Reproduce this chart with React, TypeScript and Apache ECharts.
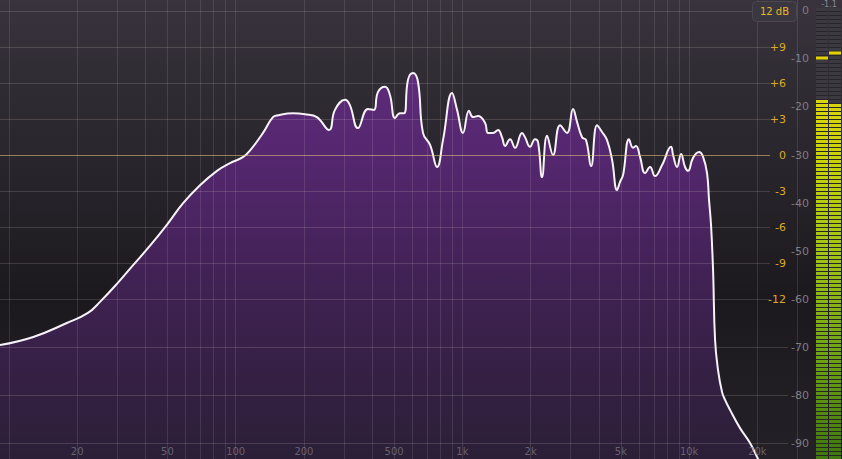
import React, { useEffect, useRef } from 'react';
import * as echarts from 'echarts';

// Spectrum curve (frequency in Hz, level in dB)
const FREQ = [9.13, 12.8, 18.0, 22.3, 25.2, 30.0, 35.2, 41.9, 49.8, 58.5, 69.6, 82.7, 94.4, 108, 116, 132, 146, 154, 179, 202, 228, 258, 274, 304, 319, 346, 383, 407, 424, 456, 479, 504, 530, 553, 575, 605, 637, 670, 720, 773, 821, 900, 947, 1006, 1069, 1114, 1172, 1258, 1297, 1365, 1436, 1495, 1542, 1622, 1706, 1832, 1889, 1987, 2090, 2155, 2244, 2362, 2510, 2695, 2893, 3075, 3203, 3370, 3510, 3693, 3925, 4129, 4344, 4571, 4808, 4957, 5110, 5430, 5655, 5831, 6073, 6390, 6722, 7073, 7595, 8322, 8492, 8844, 9211, 9592, 9888, 10404, 11060, 11520, 11995, 12240, 12490, 12750, 13010, 13410, 13970, 14400, 15150, 16770, 18560, 19930, 20970];
const LEVEL = [-69.6, -67.9, -65.0, -62.9, -60.6, -56.8, -53.0, -48.9, -44.5, -40.1, -36.3, -33.3, -31.7, -30.4, -29.0, -25.4, -22.1, -21.7, -21.3, -21.5, -22.1, -24.8, -20.6, -18.5, -19.6, -24.4, -20.4, -20.6, -16.9, -15.8, -17.5, -22.3, -21.3, -21.3, -14.4, -12.9, -14.8, -25.4, -27.9, -32.5, -26.9, -17.1, -20.6, -25.4, -20.8, -22.1, -21.9, -23.3, -25.4, -25.4, -24.8, -26.3, -28.1, -26.7, -28.5, -25.4, -26.3, -28.3, -26.7, -27.3, -34.6, -26.0, -30.0, -23.8, -25.4, -20.4, -23.1, -26.3, -26.9, -32.3, -23.8, -25.2, -26.9, -31.0, -37.3, -35.6, -34.2, -26.7, -28.5, -28.1, -30.4, -33.8, -32.5, -34.4, -32.1, -28.3, -30.0, -32.5, -29.8, -32.5, -33.3, -30.6, -29.4, -30.4, -33.8, -39.4, -44.6, -54.0, -68.5, -74.8, -79.4, -81.0, -83.1, -86.9, -90.0, -92.9, -94.8];

// Axes
const X_MIN = 9.13;
const X_MAX = 35900;
const SPEC_MIN = -93.33;
const SPEC_MAX = 2.29;
const EQ_MIN = -25.33;
const EQ_MAX = 12.92;
const SPEC_TICKS = [0, -10, -20, -30, -40, -50, -60, -70, -80, -90];
const EQ_TICKS = [9, 6, 3, 0, -3, -6, -9, -12];
const EQ_LINES = [12, 9, 6, 3, 0, -3, -6, -9, -12];
const SPEC_LINES = [-70, -80, -90];
const EQ_LINE_END = 22750;
const SPEC_LINE_END = 27300;
const X_GRID = [10, 20, 30, 40, 50, 60, 70, 80, 90, 100, 200, 300, 400, 500, 600, 700, 800, 900, 1000, 2000, 3000, 4000, 5000, 6000, 7000, 8000, 9000, 10000, 20000, 30000];
const X_LABEL_FREQ = [20, 50, 100, 200, 500, 1000, 2000, 5000, 10000, 20000];
const X_LABEL_TEXT = ['20', '50', '100', '200', '500', '1k', '2k', '5k', '10k', '20k'];
const X_LABEL_DB = -91.7;

// Level meter (L, R): level dB, peak hold dB
const METER_CH = ['L', 'R'];
const METER_LEVEL = [-18.5, -19.2];
const METER_PEAK = [-9.8, -8.75];

const FONT = '"DejaVu Sans", sans-serif';

export default function App() {
  const ref = useRef<HTMLDivElement>(null);
  useEffect(() => {
    document.body.style.margin = '0';
    document.body.style.overflow = 'hidden';
    const chart = echarts.init(ref.current!, null, { renderer: 'svg' });
    const data = FREQ.map((f, i) => [f, LEVEL[i]]);
    const fill = {
      type: 'linear', x: 0, y: 0, x2: 0, y2: 459, global: true,
      colorStops: [
        { offset: 0, color: '#64317f' },
        { offset: 0.16, color: '#5e2b7b' },
        { offset: 0.34, color: '#55276f' },
        { offset: 0.65, color: '#3e2150' },
        { offset: 1, color: '#2b1f37' },
      ],
    };
    const lit = {
      type: 'linear', x: 0, y: 0, x2: 0, y2: 459, global: true,
      colorStops: [
        { offset: 0, color: '#e2da12' },
        { offset: 0.2, color: '#dcd60c' },
        { offset: 0.35, color: '#c8d206' },
        { offset: 0.55, color: '#a2c414' },
        { offset: 0.75, color: '#74a812' },
        { offset: 1, color: '#3e780c' },
      ],
    };
    const vLine = 'rgba(255,255,255,0.11)';
    const hLine = 'rgba(255,240,225,0.15)';
    chart.setOption({
      animation: false,
      grid: [
        { left: 0, top: 0, width: 815, height: 459 },
        { left: 816, top: 0, width: 26, height: 459 },
      ],
      xAxis: [
        { type: 'log', gridIndex: 0, min: X_MIN, max: X_MAX, axisLine: { show: false }, axisTick: { show: false }, axisLabel: { show: false }, splitLine: { show: false } },
        { type: 'category', gridIndex: 1, data: METER_CH, show: false },
      ],
      yAxis: [
        {
          type: 'value', gridIndex: 0, min: SPEC_MIN, max: SPEC_MAX, position: 'right',
          axisLine: { show: false }, axisTick: { show: false }, splitLine: { show: false },
          axisLabel: { inside: true, margin: 6, customValues: SPEC_TICKS, color: '#7d7b83', fontSize: 11, fontFamily: FONT, formatter: (v: number) => `${v}` },
        },
        {
          type: 'value', gridIndex: 0, min: EQ_MIN, max: EQ_MAX, position: 'right',
          axisLine: { show: false }, axisTick: { show: false }, splitLine: { show: false },
          axisLabel: { inside: true, margin: 29, customValues: EQ_TICKS, color: '#dba92a', fontSize: 11, fontFamily: FONT, formatter: (v: number) => (v > 0 ? `+${v}` : `${v}`) },
        },
        { type: 'value', gridIndex: 1, min: SPEC_MIN, max: SPEC_MAX, show: false },
      ],
      series: [
        {
          type: 'line', name: 'fill', xAxisIndex: 0, yAxisIndex: 0, data, smooth: 0.45, showSymbol: false, z: 1,
          lineStyle: { width: 0, opacity: 0 }, areaStyle: { color: fill, opacity: 1, origin: 'start' }, silent: true,
        },
        {
          type: 'line', name: 'grid', xAxisIndex: 0, yAxisIndex: 0, data: [[X_MIN, SPEC_MIN]], showSymbol: false, z: 2,
          lineStyle: { opacity: 0 }, silent: true,
          markLine: {
            silent: true, symbol: ['none', 'none'], label: { show: false },
            data: [
              ...X_GRID.map((f) => ({ xAxis: f, lineStyle: { color: vLine, width: 1, type: 'solid' } })),
              ...SPEC_LINES.map((v) => [
                { coord: [X_MIN, v], lineStyle: { color: hLine, width: 1, type: 'solid' } },
                { coord: [SPEC_LINE_END, v] },
              ]),
            ],
          },
        },
        {
          type: 'line', name: 'eqgrid', xAxisIndex: 0, yAxisIndex: 1, data: [[X_MIN, EQ_MIN]], showSymbol: false, z: 2,
          lineStyle: { opacity: 0 }, silent: true,
          markLine: {
            silent: true, symbol: ['none', 'none'], label: { show: false },
            data: EQ_LINES.map((v) => [
              { coord: [X_MIN, v], lineStyle: { color: v === 0 ? 'rgba(235,200,125,0.55)' : hLine, width: 1, type: 'solid' } },
              { coord: [EQ_LINE_END, v] },
            ]),
          },
        },
        {
          type: 'line', name: 'spectrum', xAxisIndex: 0, yAxisIndex: 0, data, smooth: 0.45, showSymbol: false, z: 3,
          lineStyle: { color: '#f6f2f8', width: 2 }, silent: true,
        },
        {
          type: 'scatter', name: 'xlabels', xAxisIndex: 0, yAxisIndex: 0, z: 4, symbolSize: 0, silent: true,
          data: X_LABEL_FREQ.map((f) => [f, X_LABEL_DB]),
          label: { show: true, position: 'inside', color: '#78757e', fontSize: 10, fontFamily: FONT, formatter: (p: any) => X_LABEL_TEXT[p.dataIndex] },
        },
        {
          type: 'custom', name: 'meter', xAxisIndex: 1, yAxisIndex: 2, z: 5, silent: true,
          data: METER_CH.map((_, i) => [i, METER_LEVEL[i], METER_PEAK[i]]),
          renderItem: (params: any, api: any) => {
            const ch = api.value(0);
            const lvl = api.value(1);
            const pk = api.value(2);
            const bw = api.size([1, 0])[0];
            const p = api.coord([ch, lvl]);
            const pp = api.coord([ch, pk]);
            const x0 = p[0] - bw / 2;
            const w = bw - 1;
            const children: any[] = [
              { type: 'rect', shape: { x: x0, y: 8, width: w, height: 451 }, style: { fill: '#27252b' } },
            ];
            for (let y = 8; y < 459; y += 4) {
              children.push({
                type: 'rect',
                shape: { x: x0, y, width: w, height: 3 },
                style: { fill: y + 1.5 >= p[1] ? lit : '#3c3a41' },
              });
            }
            children.push({ type: 'rect', shape: { x: x0, y: pp[1] - 1.5, width: w, height: 3 }, style: { fill: '#e4d200' } });
            return { type: 'group', children };
          },
        },
      ],
      graphic: [
        { type: 'rect', shape: { x: 752.5, y: 1.5, width: 44, height: 20, r: 4 }, style: { fill: '#3a3740', stroke: '#4b4851', lineWidth: 1 }, z: 10 },
        { type: 'text', x: 774.5, y: 11.5, z: 11, style: { text: '12 dB', fill: '#e8b82c', font: `10px ${FONT}`, align: 'center', verticalAlign: 'middle' } },
        { type: 'text', x: 829, y: 4.5, z: 11, style: { text: '-1.1', fill: '#8a8890', font: `8px ${FONT}`, align: 'center', verticalAlign: 'middle' } },
      ],
    });
    return () => chart.dispose();
  }, []);
  return (
    <div
      ref={ref}
      style={{
        width: 842,
        height: 459,
        background: 'linear-gradient(to bottom, #38333c 0%, #2a262d 33%, #1c191e 65%, #242027 100%)',
      }}
    />
  );
}
